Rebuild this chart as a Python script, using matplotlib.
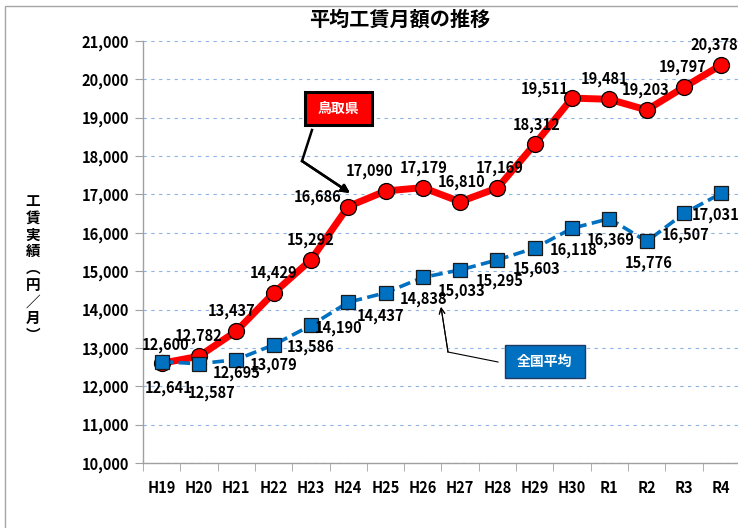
import matplotlib
matplotlib.use("Agg")
import matplotlib.pyplot as plt
from matplotlib.patches import Rectangle
from matplotlib.lines import Line2D

plt.rcParams['font.family'] = ['Noto Sans CJK JP', 'DejaVu Sans']

# ---------- data ----------
years = ["H19", "H20", "H21", "H22", "H23", "H24", "H25", "H26",
         "H27", "H28", "H29", "H30", "R1", "R2", "R3", "R4"]
tottori = [12600, 12782, 13437, 14429, 15292, 16686, 17090, 17179,
           16810, 17169, 18312, 19511, 19481, 19203, 19797, 20378]
national = [12641, 12587, 12695, 13079, 13586, 14190, 14437, 14838,
            15033, 15295, 15603, 16118, 16369, 15776, 16507, 17031]

# label offsets in pixels (dx, dy), picked by eye
red_offsets = [(4, 18), (0, 20), (-5, 20), (0, 20), (0, 20), (-31, 10), (-16, 20), (1, 20),
               (1, 20), (2, 20), (2, 19), (-27, 9), (-5, 20), (-1, 20), (-1, 20), (-7, 20)]
blue_offsets = [(7, -26), (13, -29), (0, -13), (0, -20), (0, -22), (-10, -26), (-5, -23), (1, -22),
                (1, -21), (2, -21), (2, -21), (2, -22), (1, -21), (2, -22), (2, -22), (-6, -22)]

W, H = 738, 528


def fpx(x, y):
    # top-left pixel -> figure fraction
    return x / W, 1 - y / H


fig = plt.figure(figsize=(W / 100, H / 100), dpi=100)
ax = fig.add_axes([143 / W, 1 - 463 / H, 597 / W, 422 / H])

x = list(range(len(years)))

ax.plot(x, tottori, color="#FF0000", lw=5, marker="o", markersize=11.5,
        markerfacecolor="#FF0000", markeredgecolor="black", markeredgewidth=0.9, zorder=3)
ax.plot(x, national, color="#0070C0", lw=2.6, linestyle=(0, (3.2, 1.5)), marker="s", markersize=9.5,
        markerfacecolor="#0070C0", markeredgecolor="#1a1a1a", markeredgewidth=0.9, zorder=4)

for i, v in enumerate(tottori):
    ax.annotate(f"{v:,}", (i, v), xytext=red_offsets[i], textcoords="offset pixels",
                ha="center", va="center", fontsize=10.5, fontweight="bold", zorder=6,
                annotation_clip=False)
for i, v in enumerate(national):
    ax.annotate(f"{v:,}", (i, v), xytext=blue_offsets[i], textcoords="offset pixels",
                ha="center", va="center", fontsize=10.5, fontweight="bold", zorder=6,
                annotation_clip=False)

# ---------- axes ----------
ax.set_xlim(-0.5, len(years) - 0.5)
ax.set_ylim(10000, 21000)
ax.set_yticks(range(10000, 21001, 1000))
ax.set_yticklabels([f"{t:,}" for t in range(10000, 21001, 1000)], fontsize=10.5, fontweight="bold")
ax.set_xticks(x)
ax.set_xticklabels(years, fontsize=10.5, fontweight="bold")
ax.set_xticks([i - 0.5 for i in range(len(years) + 1)], minor=True)
ax.tick_params(axis="x", which="major", length=0, pad=12)
ax.tick_params(axis="x", which="minor", length=6, color="#A0A0A0", direction="out")
ax.tick_params(axis="y", length=6, color="#A0A0A0", direction="out", pad=4)

for s in ["top", "right"]:
    ax.spines[s].set_visible(False)
for s in ["left", "bottom"]:
    ax.spines[s].set_color("#A0A0A0")
    ax.spines[s].set_linewidth(1.0)

ax.grid(axis="y", color="#8EB4E3", linestyle=(0, (3, 4)), lw=0.8)
ax.set_axisbelow(True)

# ---------- titles ----------
fig.text(*fpx(400, 19), "平均工賃月額の推移", ha="center", va="center",
         fontsize=14.5, fontweight="bold")
fig.text(*fpx(33, 268), "工\n賃\n実\n績\n︵\n円\n／\n月\n︶", ha="center", va="center",
         fontsize=10.5, fontweight="bold", linespacing=1.05)

# ---------- callouts ----------
x0, y0 = fpx(305, 125)
fig.add_artist(Rectangle((x0, y0), 67 / W, 33 / H, transform=fig.transFigure,
                         facecolor="#FF0000", edgecolor="black", lw=2.2, zorder=7))
fig.text(*fpx(338.5, 108.5), "鳥取県", ha="center", va="center", color="white",
         fontsize=10, fontweight="bold", zorder=8)
fig.add_artist(Line2D([312 / W, 302 / W], [1 - 130 / H, 1 - 161 / H], transform=fig.transFigure,
                      color="black", lw=1.8, zorder=7))
fig.add_artist(plt.annotate("", xy=fpx(350, 193), xytext=fpx(302, 161), xycoords="figure fraction",
                            textcoords="figure fraction",
                            arrowprops=dict(arrowstyle="-|>", color="black", lw=1.8,
                                            mutation_scale=12, shrinkA=0, shrinkB=0)))

x0, y0 = fpx(505, 378)
fig.add_artist(Rectangle((x0, y0), 80 / W, 33 / H, transform=fig.transFigure,
                         facecolor="#0070C0", edgecolor="#1F3864", lw=1.0, zorder=7))
fig.text(*fpx(545, 361.5), "全国平均", ha="center", va="center", color="white",
         fontsize=10, fontweight="bold", zorder=8)
fig.add_artist(Line2D([498 / W, 448 / W], [1 - 362 / H, 1 - 352 / H], transform=fig.transFigure,
                      color="black", lw=0.8, zorder=7))
fig.add_artist(plt.annotate("", xy=fpx(441, 307), xytext=fpx(448, 352), xycoords="figure fraction",
                            textcoords="figure fraction",
                            arrowprops=dict(arrowstyle="->", color="black", lw=0.8,
                                            mutation_scale=10, shrinkA=0, shrinkB=0)))

# outer frame of the chart area
fx, fy = fpx(5, 540)
fig.add_artist(Rectangle((fx, fy), 1.2, (540 - 6) / H, transform=fig.transFigure,
                         facecolor="none", edgecolor="#A6A6A6", lw=1.0, zorder=0))

fig.savefig("out.png", dpi=100)
